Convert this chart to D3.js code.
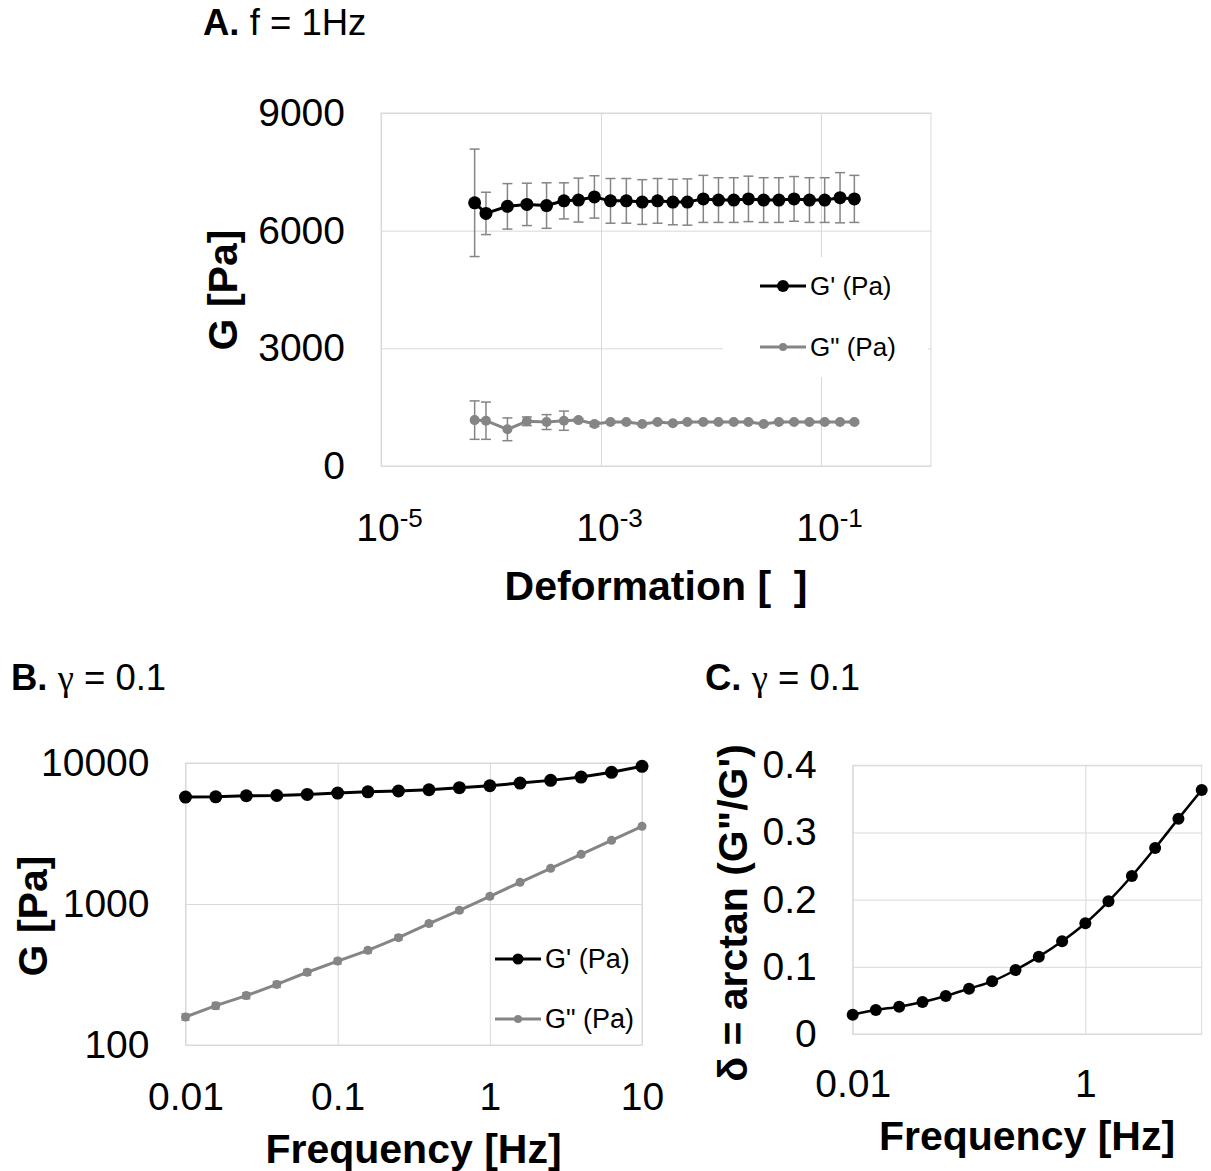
<!DOCTYPE html>
<html>
<head>
<meta charset="utf-8">
<script src="https://cdn.jsdelivr.net/npm/d3@7"></script>
<style>
body { margin: 0; background: #fff; }
svg { display: block; font-family: "Liberation Sans", Arial, sans-serif; }
</style>
</head>
<body>
<svg id="chart" width="1211" height="1171"></svg>
<script>
// --- panel A : strain sweep, f = 1 Hz ---
const strainA = [7.1e-5, 9.0e-5, 1.41e-4, 2.12e-4, 3.2e-4, 4.6e-4, 6.24e-4, 8.71e-4, 1.22e-3,
    1.70e-3, 2.37e-3, 3.27e-3, 4.50e-3, 6.10e-3, 8.51e-3, 0.0117, 0.0161, 0.0219, 0.0301,
    0.0414, 0.0569, 0.0785, 0.108, 0.149, 0.201];
const gpA = [6710, 6440, 6620, 6670, 6640, 6760, 6780, 6860, 6760, 6760, 6730, 6760, 6730,
    6730, 6810, 6780, 6780, 6810, 6780, 6780, 6810, 6780, 6780, 6840, 6810];
const gpErrA = [1370, 540, 580, 540, 580, 460, 560, 540, 570, 570, 570, 570, 580, 590, 600,
    570, 570, 580, 570, 570, 570, 570, 570, 640, 600];
const gppA = [1170, 1155, 935, 1140, 1120, 1155, 1170, 1070, 1120, 1120, 1070, 1120, 1090,
    1120, 1120, 1120, 1120, 1120, 1070, 1120, 1120, 1120, 1120, 1120, 1120];
const gppErrA = [490, 475, 290, 110, 190, 245, 40, 60, 30, 30, 30, 30, 30, 30, 30, 30, 30,
    30, 30, 30, 30, 30, 30, 30, 30];
const xTicksA = [1e-5, 1e-3, 1e-1];
const yTicksA = [0, 3000, 6000, 9000];

// --- panel B / C : frequency sweep, gamma = 0.1 ---
const freqBC = [0.01, 0.0158, 0.0251, 0.0398, 0.0631, 0.1, 0.158, 0.251, 0.398, 0.631,
    1, 1.58, 2.51, 3.98, 6.31, 10];
const gpB = [5730, 5760, 5860, 5880, 5990, 6120, 6250, 6330, 6460, 6680, 6900, 7210, 7530,
    7950, 8590, 9470];
const gppB = [158, 190, 224, 269, 328, 394, 469, 577, 726, 902, 1133, 1425, 1790, 2249,
    2829, 3557];
const gppErrB = [8, 10, 11, 13, 15, 17, 20, 24, 28, 32, 38, 45, 52, 60, 70, 80];
const deltaC = [0.0288, 0.0357, 0.0407, 0.0476, 0.0566, 0.0675, 0.0784, 0.0953, 0.1151,
    0.138, 0.1648, 0.1975, 0.2352, 0.2769, 0.3206, 0.3633];
const xTicksB = [0.01, 0.1, 1, 10];
const yTicksB = [100, 1000, 10000];
const xTicksC = [0.01, 1];
const yTicksC = [0, 0.1, 0.2, 0.3, 0.4];

const legendNames = ["G' (Pa)", 'G" (Pa)'];

const BLACK = '#000';
const GREY = '#858585';
const GRID = '#d9d9d9';
const TICK_FONT = 39;
const LABEL_FONT = 41;

const svg = d3.select('#chart');

// gridlines, border and tick labels for one panel
const drawFrame = (x, y, opts) => {
    const [x0, x1] = x.range();
    const [y0, y1] = y.range();
    const g = svg.append('g');

    g.append('g')
        .attr('transform', `translate(0,${y0})`)
        .call(d3.axisBottom(x).tickValues(opts.xTicks).tickSize(-(y0 - y1)).tickFormat(''))
        .call(a => a.select('.domain').remove())
        .selectAll('line').attr('stroke', GRID);
    g.append('g')
        .attr('transform', `translate(${x0},0)`)
        .call(d3.axisLeft(y).tickValues(opts.yTicks).tickSize(-(x1 - x0)).tickFormat(''))
        .call(a => a.select('.domain').remove())
        .selectAll('line').attr('stroke', GRID);
    g.append('rect')
        .attr('x', x0).attr('y', y1)
        .attr('width', x1 - x0).attr('height', y0 - y1)
        .attr('fill', 'none').attr('stroke', GRID);

    const ax = g.append('g')
        .attr('transform', `translate(0,${y0})`)
        .call(d3.axisBottom(x).tickValues(opts.xTicks).tickSize(0)
            .tickPadding(opts.xPad).tickFormat(opts.xFormat || (d => d)));
    const ay = g.append('g')
        .attr('transform', `translate(${x0},0)`)
        .call(d3.axisLeft(y).tickValues(opts.yTicks).tickSize(0)
            .tickPadding(36).tickFormat(d => d));
    [ax, ay].forEach(a => {
        a.select('.domain').remove();
        a.selectAll('text')
            .attr('font-size', TICK_FONT)
            .attr('font-family', '"Liberation Sans", Arial, sans-serif')
            .attr('fill', BLACK);
    });
    return ax;
};

const drawSeries = (x, y, xs, ys, color, width, r, curve) => {
    const pts = xs.map((v, i) => [v, ys[i]]);
    svg.append('path')
        .datum(pts)
        .attr('fill', 'none')
        .attr('stroke', color)
        .attr('stroke-width', width)
        .attr('d', d3.line().x(d => x(d[0])).y(d => y(d[1])).curve(curve || d3.curveLinear));
    svg.append('g')
        .selectAll('circle')
        .data(pts)
        .enter()
        .append('circle')
            .attr('cx', d => x(d[0]))
            .attr('cy', d => y(d[1]))
            .attr('r', r)
            .attr('fill', color);
};

const drawErrors = (x, y, xs, ys, errs, cap) => {
    const g = svg.append('g').attr('stroke', GREY).attr('stroke-width', 1.5);
    xs.forEach((v, i) => {
        const cx = x(v);
        const top = y(ys[i] + errs[i]);
        const bot = y(ys[i] - errs[i]);
        g.append('line').attr('x1', cx).attr('x2', cx).attr('y1', top).attr('y2', bot);
        g.append('line').attr('x1', cx - cap).attr('x2', cx + cap).attr('y1', top).attr('y2', top);
        g.append('line').attr('x1', cx - cap).attr('x2', cx + cap).attr('y1', bot).attr('y2', bot);
    });
};

const drawLegend = (x0, y0, gap, font, rBig, rSmall) => {
    const g = svg.append('g');
    legendNames.forEach((name, i) => {
        const yy = y0 + i * gap;
        const col = i === 0 ? BLACK : GREY;
        g.append('line').attr('x1', x0).attr('x2', x0 + 46).attr('y1', yy).attr('y2', yy)
            .attr('stroke', col).attr('stroke-width', 3);
        g.append('circle').attr('cx', x0 + 23).attr('cy', yy)
            .attr('r', i === 0 ? rBig : rSmall).attr('fill', col);
        g.append('text').attr('x', x0 + 50).attr('y', yy).attr('dy', '0.35em')
            .attr('font-size', font).attr('fill', BLACK).text(name);
    });
};

const axisTitle = (txt, cx, cy, rotate, size) => {
    svg.append('text')
        .attr('transform', `translate(${cx},${cy})` + (rotate ? ' rotate(-90)' : ''))
        .attr('text-anchor', 'middle')
        .attr('font-size', size || LABEL_FONT)
        .attr('font-weight', 'bold')
        .attr('fill', BLACK)
        .text(txt);
};

const panelTitle = (letter, rest, px, py, greek) => {
    const t = svg.append('text').attr('x', px).attr('y', py).attr('font-size', 36.5).attr('fill', BLACK);
    t.append('tspan').attr('font-weight', 'bold').text(letter);
    if (greek) {
        t.append('tspan').text(' ');
        t.append('tspan').attr('font-family', '"Liberation Serif", serif').text(greek);
    }
    t.append('tspan').text(rest);
};

/* ---------- panel A ---------- */
const xA = d3.scaleLog().domain([1e-5, 1]).range([381, 931]);
const yA = d3.scaleLinear().domain([0, 9000]).range([466, 113]);

const axA = drawFrame(xA, yA, { xTicks: xTicksA, yTicks: yTicksA, xPad: 47 });
axA.selectAll('text')
    .text(null)
    .attr('dx', 8)
    .each(function (d) {
        const t = d3.select(this);
        t.append('tspan').text('10');
        t.append('tspan').attr('font-size', 26).attr('dy', -14).text(Math.round(Math.log10(d)));
    });

// legend box hides the gridlines behind it
svg.append('rect').attr('x', 723).attr('y', 257).attr('width', 205).attr('height', 120).attr('fill', '#fff');

drawErrors(xA, yA, strainA, gpA, gpErrA, 5);
drawErrors(xA, yA, strainA, gppA, gppErrA, 5);
drawSeries(xA, yA, strainA, gpA, BLACK, 3, 6.5);
drawSeries(xA, yA, strainA, gppA, GREY, 3, 5);
drawLegend(760, 286, 61, 26, 6, 4);

axisTitle('G [Pa]', 237, 290, true);
axisTitle('Deformation [\u00a0\u00a0]', 656, 600, false);
panelTitle('A.', ' f = 1Hz', 203, 35);

/* ---------- panel B ---------- */
const xB = d3.scaleLog().domain([0.01, 10]).range([185.5, 642]);
const yB = d3.scaleLog().domain([100, 10000]).range([1045, 763]);

drawFrame(xB, yB, { xTicks: xTicksB, yTicks: yTicksB, xPad: 37 });
drawErrors(xB, yB, freqBC, gppB, gppErrB, 4);
drawSeries(xB, yB, freqBC, gpB, BLACK, 3, 6.5);
drawSeries(xB, yB, freqBC, gppB, GREY, 3, 4.5);
drawLegend(495, 959, 60, 27, 5.5, 4);

axisTitle('G [Pa]', 47, 916, true);
axisTitle('Frequency [Hz]', 413.5, 1163, false);
panelTitle('B.', ' = 0.1', 11, 690, 'γ');

/* ---------- panel C ---------- */
const xC = d3.scaleLog().domain([0.01, 10]).range([852.7, 1201.7]);
const yC = d3.scaleLinear().domain([0, 0.4]).range([1034, 765.3]);

drawFrame(xC, yC, { xTicks: xTicksC, yTicks: yTicksC, xPad: 35 });
drawSeries(xC, yC, freqBC, deltaC, BLACK, 2.5, 6, d3.curveMonotoneX);

axisTitle('δ = arctan (G"/G\')', 747, 913, true, 41);
axisTitle('Frequency [Hz]', 1027, 1150, false);
panelTitle('C.', ' = 0.1', 705, 690, 'γ');
</script>
</body>
</html>
